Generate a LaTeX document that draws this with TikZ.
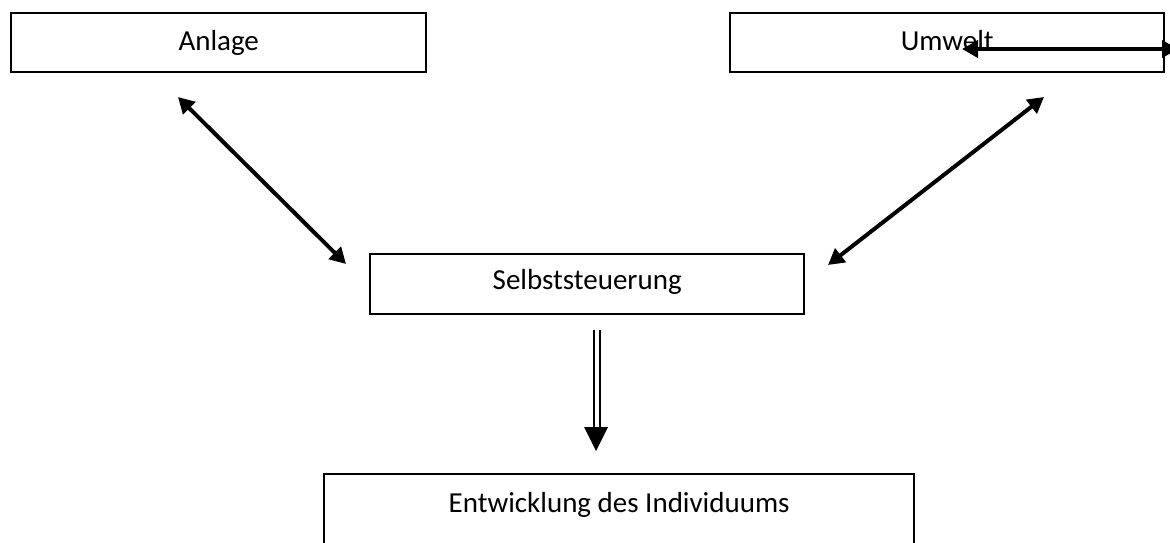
\documentclass[tikz,border=0pt]{standalone}
\usepackage{fontspec}
\setmainfont{Carlito}
\usetikzlibrary{arrows.meta,calc}
\begin{document}
\begin{tikzpicture}[x=1pt,y=-1pt,
  box/.style={draw=black, line width=2.4pt, rectangle, inner sep=0pt,
    anchor=north west, text height=37pt, text depth=22pt,
    font=\fontsize{29}{35}\selectfont},
  biarrow/.style={line width=4pt,
    {Triangle[length=16pt,width=17pt]}-{Triangle[length=16pt,width=17pt]}},
  dline/.style={line width=2pt},
]
\useasboundingbox (0,0) rectangle (1170,542);
\fill[white] (0,0) rectangle (1170,542);

\node[box, minimum width=415pt] (anlage) at (10,12) {Anlage};
\node[box, minimum width=434pt] (umwelt) at (729,12) {Umwelt};
\node[box, minimum width=434pt, text height=35pt, text depth=25pt] (selbst) at (369,253) {Selbststeuerung};
\node[box, minimum width=590pt, text height=38pt, text depth=80pt] (entw) at (323,473) {Entwicklung des Individuums};

% diagonal connectors
\coordinate (aTip) at (178,97);
\coordinate (sLeft) at (346,264);
\coordinate (uTip) at (1044,97);
\coordinate (sRight) at (828,265);
\draw[biarrow] (aTip) -- (sLeft);
\draw[biarrow] (uTip) -- (sRight);

% arrow inside Umwelt box
\coordinate (uIn) at (962,49);
\coordinate (uOut) at (1178,49);
\draw[biarrow] (uIn) -- (uOut);

% double arrow down
\coordinate (dTop) at (597,330);
\coordinate (dTip) at (596,451);
\draw[dline] ($(dTop)+(-3,0)$) -- ($(dTip)+(-2,-24)$);
\draw[dline] ($(dTop)+(3,0)$) -- ($(dTip)+(4,-24)$);
\fill ($(dTip)+(-12,-24)$) -- ($(dTip)+(12,-24)$) -- (dTip) -- cycle;
\end{tikzpicture}
\end{document}
